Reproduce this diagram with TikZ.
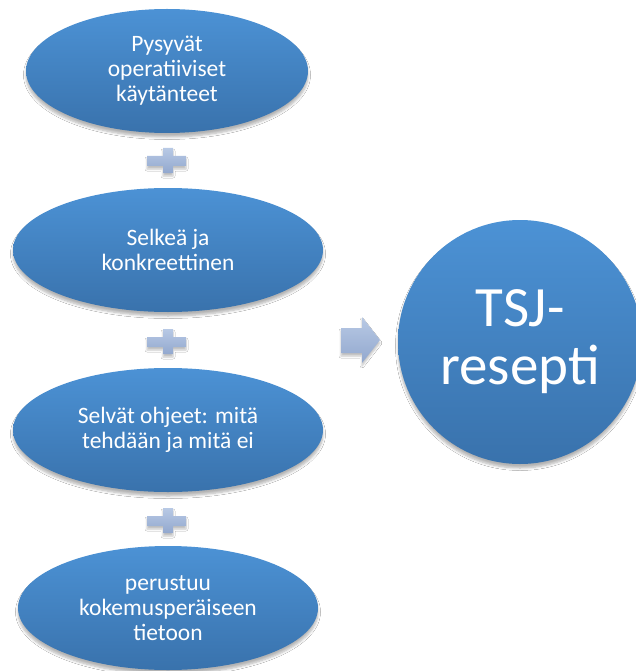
\documentclass[tikz,border=0pt]{standalone}
\usepackage{fontspec}
\setmainfont{Carlito}
\usetikzlibrary{shapes.geometric,shadows.blur}
\definecolor{elltop}{RGB}{76,146,213}
\definecolor{ellbot}{RGB}{57,114,172}
\definecolor{plustop}{RGB}{184,201,229}
\definecolor{plusbot}{RGB}{146,168,206}
\tikzset{
  softshadow/.style={blur shadow={shadow xshift=0pt, shadow yshift=-4pt, shadow blur radius=2.5pt, shadow opacity=30, shadow blur steps=6}},
  oval/.style={ellipse, inner sep=0pt, minimum height=124pt, top color=elltop, bottom color=ellbot, draw=none,
    text=white, align=center, font=\fontsize{23.5}{25}\selectfont, softshadow},
  bigcirc/.style={circle, inner sep=0pt, minimum size=244pt, top color=elltop, bottom color=ellbot, draw=none,
    text=white, align=center, font=\fontsize{57}{58}\selectfont, softshadow},
  plusshape/.style={top color=plustop, bottom color=plusbot, draw=none,
    blur shadow={shadow xshift=0pt, shadow yshift=-3pt, shadow blur radius=2pt, shadow opacity=25, shadow blur steps=4}}
}
\begin{document}
\begin{tikzpicture}[x=1pt,y=-1pt]
\useasboundingbox (0,0) rectangle (636,671);
\fill[white] (0,0) rectangle (636,671);
\node[oval, minimum width=282pt] (e1) at (167,71) {Pysyvät\\operatiiviset\\käytänteet};
\node[oval, minimum width=310pt] (e2) at (168,250) {Selkeä ja\\konkreettinen};
\node[oval, minimum width=310pt] (e3) at (168,430) {Selvät ohjeet: mitä\\tehdään ja mitä ei};
\node[oval, minimum width=300pt] (e4) at (168,608) {perustuu\\kokemusperäiseen\\tietoon};
\node[bigcirc] (c) at (520,342) {TSJ-\\resepti};
% plus signs
\foreach \py in {161,342,521}{
  \path[plusshape] (147,\py-5) -- (163,\py-5) -- (163,\py-13) -- (173,\py-13) -- (173,\py-5)
    -- (186,\py-5) -- (186,\py+5) -- (173,\py+5) -- (173,\py+12) -- (163,\py+12) -- (163,\py+5)
    -- (147,\py+5) -- cycle;
}
% arrow
\path[plusshape] (341,328) -- (362,328) -- (362,317) -- (380,340) -- (362,363) -- (362,353) -- (341,353) -- cycle;
\end{tikzpicture}
\end{document}
